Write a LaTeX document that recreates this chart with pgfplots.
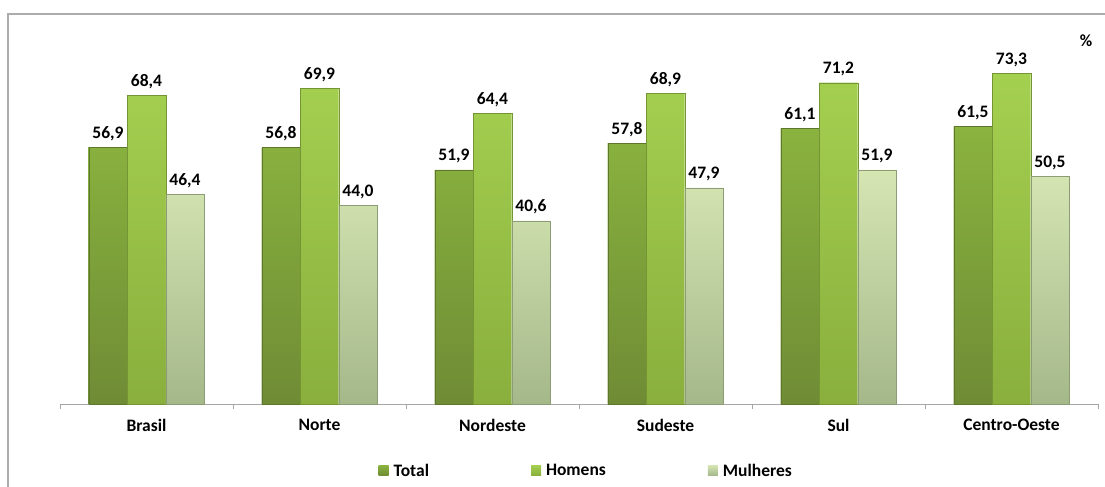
\documentclass[border=0pt]{standalone}
\usepackage{pgfplots}
\pgfplotsset{compat=1.18}
\usepackage{fontspec}
\setmainfont{Carlito}
\definecolor{totTop}{HTML}{8AB33F}
\definecolor{totBot}{HTML}{6F8C35}
\definecolor{homTop}{HTML}{A4D050}
\definecolor{homBot}{HTML}{8AAF3D}
\definecolor{mulTop}{HTML}{D5E6B3}
\definecolor{mulBot}{HTML}{A5B88A}
\begin{document}
\begin{tikzpicture}
\useasboundingbox (0,0) rectangle (1105bp,487bp);
\draw[gray!65, line width=1.3bp] (8bp,-2bp) -- (8bp,473bp) -- (1107bp,473bp);
\begin{axis}[
  at={(60bp,83bp)}, anchor=south west,
  scale only axis, width=1038bp, height=361bp,
  ybar=0pt, bar width=38.5bp,
  xmin=-0.5, xmax=5.5, ymin=0, ymax=80,
  axis y line=none, axis x line*=bottom,
  axis line style={gray!70, line width=0.9bp},
  xtick={0,1,2,3,4,5},
  xticklabels={Brasil,Norte,Nordeste,Sudeste,Sul,Centro-Oeste},
  major tick length=0pt,
  minor xtick={-0.5,0.5,1.5,2.5,3.5,4.5,5.5},
  minor tick length=5bp,
  tick align=outside,
  minor tick style={gray!70, line width=0.9bp},
  xticklabel style={font=\fontsize{17.5bp}{19bp}\selectfont\bfseries, yshift=-12bp},
  clip=false,
  /pgf/number format/.cd, use comma, fixed, fixed zerofill, precision=1, assume math mode=true,
  /pgfplots/.cd,
  nodes near coords,
  every node near coord/.append style={font=\fontsize{17.5bp}{19bp}\selectfont\bfseries, black, yshift=3bp},
  legend columns=3,
  legend style={at={(0.507,-0.185)}, anchor=center, draw=none, fill=none,
    font=\fontsize{17.5bp}{19bp}\selectfont\bfseries,
    /tikz/every odd column/.append style={column sep=3bp},
    /tikz/every even column/.append style={column sep=100bp}},
  legend image code/.code={\path[#1, draw=none] (0bp,-4.5bp) rectangle (10bp,5.5bp);},
]
\addplot[top color=totTop, bottom color=totBot, draw=totBot!85!black, line width=0.4bp] coordinates {(0,56.9) (1,56.8) (2,51.9) (3,57.8) (4,61.1) (5,61.5)};
\addplot[top color=homTop, bottom color=homBot, draw=homBot!85!black, line width=0.4bp] coordinates {(0,68.4) (1,69.9) (2,64.4) (3,68.9) (4,71.2) (5,73.3)};
\addplot[top color=mulTop, bottom color=mulBot, draw=mulBot!85!black, line width=0.4bp] coordinates {(0,46.4) (1,44.0) (2,40.6) (3,47.9) (4,51.9) (5,50.5)};
\legend{Total,Homens,Mulheres}
\end{axis}
\node[font=\fontsize{17bp}{19bp}\selectfont\bfseries] at (1086bp,446bp) {\%};
\end{tikzpicture}
\end{document}
